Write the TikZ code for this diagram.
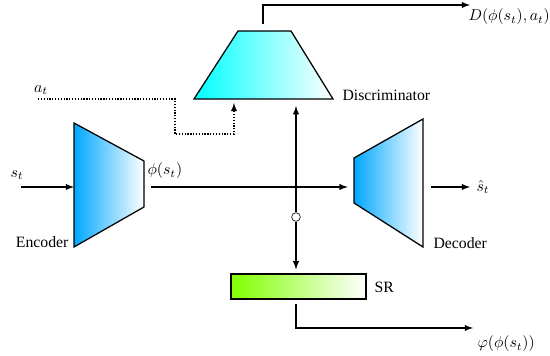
\documentclass[tikz,border=0pt]{standalone}
\usepackage{amsmath}
\usepackage{amssymb}
\usepackage{fontspec}
\setmainfont{Liberation Serif}

\definecolor{encblue}{RGB}{0,168,255}
\definecolor{disccyan}{RGB}{0,255,255}
\definecolor{srgreen}{RGB}{128,255,0}

\tikzset{
  block/.style={draw, thick, shading=axis, right color=white},
  line/.style={thick, -latex},
  junction/.style={circle, draw, fill=white, inner sep=0pt, minimum size=5.5pt}
}

\begin{document}
\begin{tikzpicture}[x=0.0223cm, y=-0.0223cm, font=\rmfamily]
            \useasboundingbox (0,0) rectangle (550,356);
            % blocks
            \shade[block, left color=encblue] (74,123) -- (144,161) -- (144,207) -- (74,247) -- cycle;
            \shade[block, left color=encblue] (354,158) -- (423,119) -- (423,247) -- (354,203) -- cycle;
            \shade[block, left color=disccyan] (194,99) -- (238,31) -- (291,31) -- (333,99) -- cycle;
            \node[block, left color=srgreen, inner sep=0pt,
                  minimum width=85.7pt, minimum height=15.9pt] (sr) at (298.5,286.5) {};
            \coordinate (enc) at (144,187);
            \coordinate (dec) at (354,187);
            \coordinate (decout) at (423,187);
            \coordinate (disc) at (263,31);
            \coordinate (discin) at (263,99);
            \node[junction] (jn) at (296,217) {};
            % labels
            \node[anchor=east] (enclab) at (74,242) {Encoder};
            \node[anchor=west] (declab) at (428,243) {Decoder};
            \node[anchor=west] (disclab) at (337,95) {Discriminator};
            \node[anchor=west] (srlab) at (369,287) {SR};
            % inputs and outputs
            \coordinate (sin) at (21,187);
            \node (stlab) at (17,175) {$s_t$};
            \coordinate (ain) at (38,99);
            \node (atlab) at (41,90) {$a_t$};
            \coordinate (shat) at (470,187);
            \node[anchor=west] (shatlab) at (471,187) {$\hat{s}_t$};
            \coordinate (dout) at (470,5);
            \node[anchor=west] (doutlab) at (463,17) {$D(\phi(s_t),a_t)$};
            \coordinate (srout) at (473,328);
            \node[anchor=west] (sroutlab) at (472,344) {$\varphi(\phi(s_t))$};
            \node[anchor=west] (philab) at (142,171) {$\phi(s_t)$};
            % connectors
            \draw[line] (sin) -- (sin -| 74,0);
            \draw[line, shorten <=4.5pt, shorten >=4pt] (enc) -- (dec);
            \draw[line, shorten <=5pt] (decout) -- (shat);
            \draw[line, shorten >=4.5pt] (jn) -- (jn |- discin);
            \draw[line, shorten >=2.5pt] (jn) -- (jn |- sr.north);
            \draw[thick, densely dotted, -latex] (ain) -- (175,99) -- (175,134) -- (234,134) -- (234,103);
            \draw[line, shorten <=4.5pt] (disc) -- (disc |- dout) -- (dout);
            \draw[line, shorten <=3pt] (jn |- sr.south) -- (jn |- srout) -- (srout);
        \end{tikzpicture}
\end{document}
